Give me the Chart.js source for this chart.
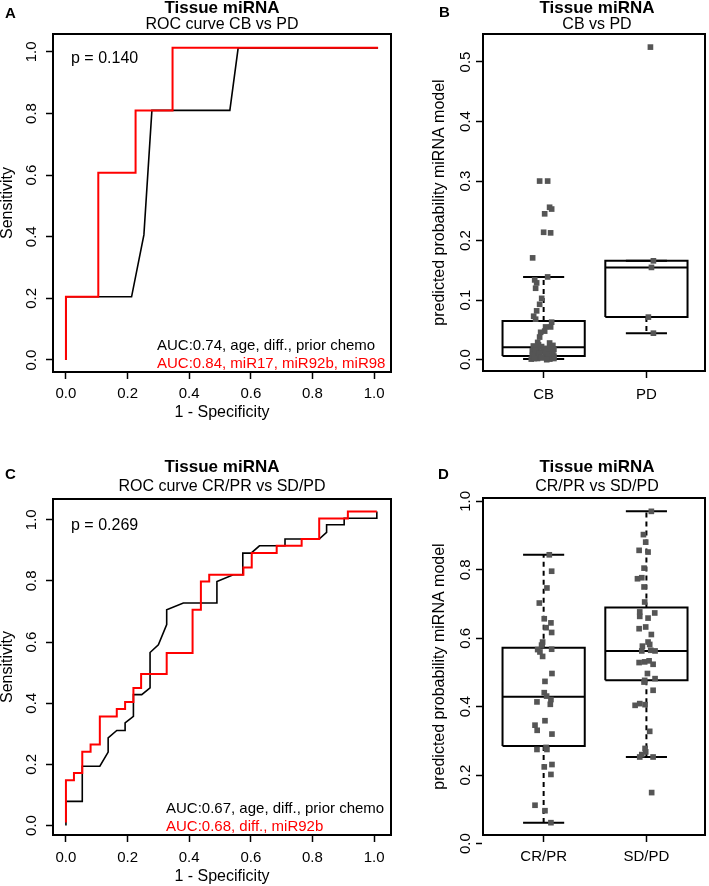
<!DOCTYPE html>
<html>
<head>
<meta charset="utf-8">
<script src="https://cdn.jsdelivr.net/npm/chart.js@4.4.0/dist/chart.umd.min.js"></script>
<style>
  body { margin: 0; background: #fff; }
  #wrap { position: relative; width: 709px; height: 886px; overflow: hidden;
          font-family: 'Liberation Sans', Arial, Helvetica, sans-serif; color: #000; }
  canvas { position: absolute; }
  .t { position: absolute; white-space: nowrap; line-height: 1; transform: translate(-50%, -50%); }
  .l { position: absolute; white-space: nowrap; line-height: 1; transform: translateY(-50%); }
  .head { font-weight: bold; font-size: 17px; }
  .sub { font-size: 16px; }
  .tag { font-weight: bold; font-size: 15px; }
  .p { font-size: 16px; }
  .auc { font-size: 15px; }
  .red { color: #ff0000; }
</style>
</head>
<body>
<div id="wrap">
  <canvas id="chartA" width="400" height="430" style="left:0;top:0"></canvas>
  <canvas id="chartB" width="277" height="430" style="left:432px;top:0"></canvas>
  <canvas id="chartC" width="400" height="446" style="left:0;top:440px"></canvas>
  <canvas id="chartD" width="277" height="446" style="left:432px;top:440px"></canvas>

  <div class="l tag" style="left:5px;top:12px">A</div>
  <div class="t head" style="left:222px;top:7px">Tissue miRNA</div>
  <div class="t sub" style="left:222px;top:24px">ROC curve CB vs PD</div>
  <div class="l p" style="left:71px;top:58px">p = 0.140</div>
  <div class="l auc" style="left:157px;top:344px">AUC:0.74, age, diff., prior chemo</div>
  <div class="l auc red" style="left:157px;top:362px">AUC:0.84, miR17, miR92b, miR98</div>

  <div class="l tag" style="left:439px;top:11px">B</div>
  <div class="t head" style="left:597px;top:7px">Tissue miRNA</div>
  <div class="t sub" style="left:597px;top:24px">CB vs PD</div>

  <div class="l tag" style="left:5px;top:473px">C</div>
  <div class="t head" style="left:222px;top:466px">Tissue miRNA</div>
  <div class="t sub" style="left:222px;top:486px">ROC curve CR/PR vs SD/PD</div>
  <div class="l p" style="left:71px;top:525px">p = 0.269</div>
  <div class="l auc" style="left:166px;top:807px">AUC:0.67, age, diff., prior chemo</div>
  <div class="l auc red" style="left:166px;top:825px">AUC:0.68, diff., miR92b</div>

  <div class="l tag" style="left:438px;top:473px">D</div>
  <div class="t head" style="left:597px;top:466px">Tissue miRNA</div>
  <div class="t sub" style="left:597px;top:486px">CR/PR vs SD/PD</div>
</div>

<script>
// ---------- data ----------
const rocTicks = [0, 0.2, 0.4, 0.6, 0.8, 1.0];

// A: ROC CB vs PD  (1 - specificity, sensitivity)
const aRedFpr   = [0, 0, 0.105, 0.105, 0.226, 0.226, 0.346, 0.346, 1.013];
const aRedTpr   = [0, 0.205, 0.205, 0.608, 0.608, 0.81, 0.81, 1.013, 1.013];
const aBlackFpr = [0, 0, 0.213, 0.253, 0.279, 0.532, 0.559, 1.013];
const aBlackTpr = [0, 0.205, 0.205, 0.406, 0.81, 0.81, 1.013, 1.013];

// C: ROC CR/PR vs SD/PD
const cRedFpr = [0, 0, 0.026, 0.026, 0.053, 0.053, 0.080, 0.080, 0.110, 0.110, 0.165, 0.165,
  0.192, 0.192, 0.219, 0.219, 0.244, 0.244, 0.327, 0.327, 0.411, 0.411, 0.438, 0.438, 0.465,
  0.465, 0.576, 0.576, 0.603, 0.603, 0.684, 0.684, 0.765, 0.765, 0.822, 0.822, 0.915, 0.915, 1.009];
const cRedTpr = [0.01, 0.148, 0.148, 0.172, 0.172, 0.241, 0.241, 0.265, 0.265, 0.357, 0.357, 0.381,
  0.381, 0.404, 0.404, 0.45, 0.45, 0.496, 0.496, 0.564, 0.564, 0.706, 0.706, 0.798, 0.798,
  0.82, 0.82, 0.844, 0.844, 0.891, 0.891, 0.915, 0.915, 0.937, 0.937, 1.004, 1.004, 1.027, 1.027];
const cBlackFpr = [0, 0, 0.053, 0.053, 0.110, 0.137, 0.137, 0.165, 0.192, 0.192, 0.219, 0.219,
  0.246, 0.273, 0.273, 0.300, 0.327, 0.327, 0.381, 0.489, 0.490, 0.543, 0.574, 0.574, 0.601,
  0.628, 0.711, 0.711, 0.822, 0.846, 0.846, 0.903, 0.903, 1.009, 1.009];
const cBlackTpr = [0, 0.079, 0.079, 0.194, 0.194, 0.240, 0.287, 0.311, 0.311, 0.336, 0.357, 0.428,
  0.428, 0.450, 0.566, 0.591, 0.657, 0.706, 0.728, 0.728, 0.798, 0.820, 0.820, 0.891, 0.891,
  0.915, 0.915, 0.937, 0.937, 0.959, 0.984, 0.984, 1.005, 1.005, 1.027];

// B: boxplot CB vs PD
const bCats = ['CB', 'PD'];
const bTicks = [0, 0.1, 0.2, 0.3, 0.4, 0.5];
const bLow  = [0.001, 0.0445];
const bQ1   = [0.006, 0.0715];
const bMed  = [0.021, 0.155];
const bQ3   = [0.065, 0.166];
const bHigh = [0.139, 0.166];
const cbVals = [0.300, 0.300, 0.256, 0.253, 0.245, 0.214, 0.213, 0.171, 0.139, 0.134, 0.129, 0.120,
  0.103, 0.093, 0.082, 0.073, 0.068, 0.063, 0.055, 0.055, 0.048, 0.046, 0.038, 0.029, 0.028,
  0.025, 0.024, 0.022, 0.021, 0.020, 0.019, 0.018, 0.017, 0.016, 0.015, 0.014, 0.013, 0.012,
  0.011, 0.010, 0.009, 0.008, 0.007, 0.006, 0.005, 0.004, 0.003, 0.003, 0.002, 0.001, 0.001,
  0.023, 0.019, 0.016, 0.013, 0.011, 0.009, 0.007, 0.005, 0.004, 0.002, 0.002, 0.000];
const cbJit = [-0.039, 0.039, 0.058, 0.078, 0.010, 0.0, 0.068, -0.107, 0.039, -0.087, -0.068, -0.078,
  -0.019, -0.039, -0.068, -0.097, -0.078, 0.078, 0.068, 0.019, 0.010, -0.029, -0.039, -0.058, 0.058,
  -0.05, 0.09, -0.02, 0.06, -0.09, 0.03, -0.06, 0.10, 0.0, -0.11, 0.05, -0.03, 0.08,
  -0.07, 0.02, -0.10, 0.07, -0.04, 0.10, -0.08, 0.04, -0.01, 0.09, -0.06, 0.06, -0.12,
  -0.10, 0.07, -0.08, 0.09, -0.04, 0.05, -0.11, 0.08, -0.02, 0.10, -0.09, 0.03];
const pdVals = [0.525, 0.166, 0.155, 0.0715, 0.0445];
const pdJit  = [0.039, 0.068, 0.049, 0.019, 0.068];

// D: boxplot CR/PR vs SD/PD
const dCats = ['CR/PR', 'SD/PD'];
const dTicks = [0, 0.2, 0.4, 0.6, 0.8, 1.0];
const dLow  = [0.061, 0.253];
const dQ1   = [0.285, 0.477];
const dMed  = [0.429, 0.563];
const dQ3   = [0.572, 0.690];
const dHigh = [0.844, 0.971];
const crVals = [0.844, 0.796, 0.747, 0.703, 0.657, 0.645, 0.631, 0.617, 0.589, 0.580, 0.567, 0.560,
  0.547, 0.568, 0.497, 0.474, 0.441, 0.431, 0.414, 0.421, 0.407, 0.359, 0.346, 0.331, 0.320,
  0.275, 0.281, 0.275, 0.224, 0.231, 0.202, 0.112, 0.096, 0.061];
const crJit = [0.055, 0.078, 0.032, -0.042, 0.006, 0.071, 0.024, 0.078, -0.01, -0.02, -0.058, -0.036,
  -0.01, 0.078, 0.081, 0.013, 0.006, 0.029, -0.065, 0.071, 0.065, 0.013, -0.084, -0.063, 0.081,
  -0.065, 0.024, 0.032, 0.006, 0.081, 0.071, -0.084, 0.013, 0.071];
const sdVals = [0.971, 0.903, 0.881, 0.857, 0.852, 0.805, 0.774, 0.777, 0.750, 0.706, 0.677, 0.664,
  0.674, 0.659, 0.628, 0.633, 0.611, 0.577, 0.589, 0.582, 0.563, 0.565, 0.563, 0.529, 0.531,
  0.534, 0.524, 0.497, 0.477, 0.482, 0.472, 0.448, 0.404, 0.409, 0.406, 0.328, 0.278, 0.268,
  0.260, 0.253, 0.253, 0.149];
const sdJit = [0.048, -0.029, -0.007, -0.071, 0.016, -0.023, -0.087, -0.045, -0.023, -0.017, -0.065, -0.065,
  0.081, 0.016, -0.071, -0.007, 0.048, -0.039, 0.016, 0.032, -0.045, 0.042, 0.084, -0.071, -0.017,
  0.026, 0.065, 0.010, -0.017, 0.084, -0.023, 0.065, -0.110, -0.065, -0.013, 0.032, -0.013, -0.007,
  -0.045, -0.065, 0.065, 0.051];

// ---------- helpers ----------
Chart.defaults.font.family = "'Liberation Sans', Arial, Helvetica, sans-serif";
Chart.defaults.color = '#000';

const tickFont = { size: 15 };
const axTitleFont = { size: 16, lineHeight: 1 };
const gray = '#555555';

Chart.register({
  id: 'frame',
  afterDatasetsDraw(chart) {
    const a = chart.chartArea, ctx = chart.ctx;
    ctx.save();
    ctx.strokeStyle = '#000';
    ctx.lineWidth = 2;
    ctx.strokeRect(a.left, a.top, a.right - a.left, a.bottom - a.top);
    ctx.restore();
  }
});

function xy(xs, ys) {
  return xs.map((x, i) => ({ x: x, y: ys[i] }));
}

function yAxis(o) {
  return {
    type: 'linear', min: o.min, max: o.max,
    afterFit: s => { s.width = o.width; },
    afterBuildTicks: s => { s.ticks = o.ticks.map(v => ({ value: v })); },
    ticks: { font: tickFont, minRotation: 90, maxRotation: 90, crossAlign: 'center',
             padding: o.pad, autoSkip: false, callback: v => v.toFixed(1) },
    grid: { drawOnChartArea: false, tickLength: 7, tickWidth: 1.5, tickColor: '#000' },
    border: { color: '#000', width: 2 },
    title: { display: true, text: o.title, font: axTitleFont, padding: 0 }
  };
}

function xAxis(o) {
  return {
    type: 'linear', min: o.min, max: o.max,
    afterFit: s => { s.height = o.height; },
    afterBuildTicks: s => { s.ticks = o.ticks.map(v => ({ value: v })); },
    ticks: { font: tickFont, maxRotation: 0, padding: o.pad, autoSkip: false, callback: o.fmt },
    grid: { drawOnChartArea: false, tickLength: 7, tickWidth: 1.5, tickColor: '#000' },
    border: { color: '#000', width: 2 },
    title: { display: !!o.title, text: o.title, font: axTitleFont, padding: 0 }
  };
}

function line(data, color, width, dash) {
  return { type: 'scatter', data: data, showLine: true, borderColor: color, borderWidth: width,
           borderDash: dash || [], pointRadius: 0, tension: 0, spanGaps: false };
}

// boxplot pieces built from the stats arrays; category k sits at x = k + 1
function boxDatasets(low, q1, med, q3, high) {
  const box = [], mid = [], whisk = [], caps = [];
  low.forEach((_, k) => {
    const g = k + 1;
    box.push({ x: g - 0.4, y: q1[k] }, { x: g + 0.4, y: q1[k] }, { x: g + 0.4, y: q3[k] },
             { x: g - 0.4, y: q3[k] }, { x: g - 0.4, y: q1[k] }, { x: g, y: null });
    mid.push({ x: g - 0.4, y: med[k] }, { x: g + 0.4, y: med[k] }, { x: g, y: null });
    whisk.push({ x: g, y: q3[k] }, { x: g, y: high[k] }, { x: g, y: null },
               { x: g, y: q1[k] }, { x: g, y: low[k] }, { x: g, y: null });
    caps.push({ x: g - 0.2, y: high[k] }, { x: g + 0.2, y: high[k] }, { x: g, y: null },
              { x: g - 0.2, y: low[k] }, { x: g + 0.2, y: low[k] }, { x: g, y: null });
  });
  return [line(mid, '#000', 2), line(box, '#000', 2), line(whisk, '#000', 2, [5, 4]), line(caps, '#000', 2)];
}

function points(groups) {
  const pts = [];
  groups.forEach((grp, k) => {
    grp.vals.forEach((v, i) => pts.push({ x: k + 1 + grp.jit[i], y: v }));
  });
  return { type: 'scatter', data: pts, pointStyle: 'rect', pointRadius: 4,
           backgroundColor: gray, borderWidth: 0 };
}

const baseOpts = {
  responsive: false, animation: false, events: [],
  plugins: { legend: { display: false }, tooltip: { enabled: false } }
};

function rocChart(id, pad, yMin, yMax, red, black) {
  new Chart(document.getElementById(id), {
    type: 'scatter',
    data: { datasets: [line(red, '#ff0000', 2), line(black, '#000', 1.6)] },
    options: Object.assign({}, baseOpts, {
      layout: { padding: pad },
      scales: {
        x: xAxis({ min: -0.042, max: 1.055, ticks: rocTicks, height: pad.xh, pad: pad.xp,
                   fmt: v => v.toFixed(1), title: '1 - Specificity' }),
        y: yAxis({ min: yMin, max: yMax, ticks: rocTicks, width: 53, pad: 4, title: 'Sensitivity' })
      }
    })
  });
}

function boxChart(id, pad, yMin, yMax, yTicks, cats, stats, groups) {
  new Chart(document.getElementById(id), {
    type: 'scatter',
    data: { datasets: [points(groups)].concat(boxDatasets.apply(null, stats)) },
    options: Object.assign({}, baseOpts, {
      layout: { padding: pad },
      scales: {
        x: xAxis({ min: 0.41, max: 2.57, ticks: [1, 2], height: 30, pad: pad.xp,
                   fmt: v => cats[Math.round(v) - 1] }),
        y: yAxis({ min: yMin, max: yMax, ticks: yTicks, width: 51, pad: 0,
                   title: 'predicted probability miRNA model' })
      }
    })
  });
}

// ---------- charts ----------
rocChart('chartA', { left: 0, top: 34, right: 9, bottom: 9, xh: 49, xp: 6 }, -0.039, 1.058,
  xy(aRedFpr, aRedTpr), xy(aBlackFpr, aBlackTpr));

rocChart('chartC', { left: 0, top: 59, right: 9, bottom: 1, xh: 50, xp: 7 }, -0.031, 1.068,
  xy(cRedFpr, cRedTpr), xy(cBlackFpr, cBlackTpr));

boxChart('chartB', { left: 0, top: 34, right: 3, bottom: 29, xp: 8 }, -0.019, 0.547, bTicks, bCats,
  [bLow, bQ1, bMed, bQ3, bHigh],
  [{ vals: cbVals, jit: cbJit }, { vals: pdVals, jit: pdJit }]);

boxChart('chartD', { left: 0, top: 58, right: 3, bottom: 21, xp: 6 }, 0.025, 1.01, dTicks, dCats,
  [dLow, dQ1, dMed, dQ3, dHigh],
  [{ vals: crVals, jit: crJit }, { vals: sdVals, jit: sdJit }]);
</script>
</body>
</html>
